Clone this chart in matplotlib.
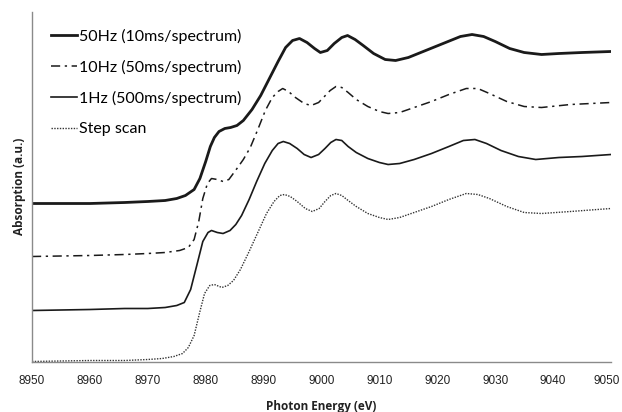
"""
XANES spectra recorded at different acquisition rates, offset vertically.
Saves: out.png
"""

import matplotlib.pyplot as plt
import matplotlib.transforms as mtransforms

# ── Data (absorption in arbitrary units, curves already offset) ───────────────

E_50HZ = [8950, 8960, 8966, 8970, 8973, 8975, 8976.5, 8978, 8979, 8980, 8980.8,
          8981.5, 8982.3, 8983.3, 8984.3, 8985.4, 8986.5, 8988, 8989.5, 8991,
          8992.5, 8993.8, 8995, 8996.2, 8997.5, 8998.8, 8999.8, 9001, 9002.2,
          9003.5, 9004.5, 9005.8, 9007.2, 9009, 9011, 9012.8, 9015, 9018,
          9021, 9024, 9026, 9028, 9030, 9032.5, 9035, 9038, 9041, 9045, 9050]
ABS_50HZ = [158, 158, 159, 160, 161, 163, 166, 172, 183, 200, 215,
            224, 230, 233, 234, 236, 241, 252, 266, 283,
            300, 314, 321, 323, 319, 313, 309, 311, 318,
            324, 326, 322, 316, 308, 302, 301, 304, 311,
            318, 325, 327, 325, 320, 313, 309, 307, 308, 309, 310]

E_10HZ = [8950, 8960, 8966, 8970, 8973, 8975.5, 8977, 8978, 8978.8, 8979.5,
          8980.3, 8981, 8982, 8983, 8984, 8985.4, 8986.5, 8987.7, 8989,
          8990.3, 8991.5, 8992.5, 8993.3, 8994.3, 8995.5, 8997, 8998.2,
          8999.5, 9000.5, 9001.5, 9002.5, 9003.5, 9004.6, 9006, 9008, 9010,
          9011.5, 9013.5, 9016, 9019, 9022, 9025, 9027, 9029, 9032, 9035,
          9038, 9043, 9050]
ABS_10HZ = [105, 106, 107, 108, 109, 111, 114, 122, 140, 163,
            178, 183, 182, 180, 182, 193, 202, 214, 232,
            251, 264, 270, 273, 270, 264, 258, 256,
            259, 265, 271, 275, 274, 269, 262, 255, 250,
            248, 249, 254, 260, 267, 273, 273, 268, 260, 255,
            254, 257, 259]

E_1HZ = [8950, 8960, 8966, 8970, 8973, 8975, 8976.3, 8977.4, 8978.5, 8979.5,
         8980.4, 8981, 8982, 8983, 8984.2, 8985.2, 8986.2, 8987.5, 8988.8,
         8990.2, 8991.5, 8992.5, 8993.4, 8994.5, 8995.8, 8997, 8998.2, 8999.5,
         9000.6, 9001.6, 9002.5, 9003.5, 9004.6, 9006, 9008, 9010, 9011.5,
         9013.5, 9016, 9019, 9022, 9024.5, 9026.5, 9028.5, 9031, 9034, 9037,
         9041, 9045, 9050]
ABS_1HZ = [51, 52, 53, 53, 54, 56, 59, 72, 97, 120,
           129, 131, 129, 128, 131, 137, 146, 162, 180,
           198, 211, 218, 220, 218, 213, 207, 204, 207,
           213, 219, 222, 221, 215, 209, 203, 199, 197,
           198, 202, 208, 215, 221, 222, 218, 211, 205, 202,
           204, 205, 207]

E_STEP = [8950, 8960, 8966, 8970, 8972.5, 8974.5, 8976, 8977, 8978, 8979,
          8979.8, 8980.7, 8981.5, 8982.8, 8983.8, 8984.8, 8986, 8987.5,
          8989, 8990.5, 8991.8, 8992.8, 8993.6, 8994.6, 8995.8, 8997.2,
          8998.4, 8999.6, 9000.6, 9001.6, 9002.5, 9003.5, 9004.6, 9006,
          9008, 9010, 9011.5, 9013.5, 9016, 9019, 9022, 9025, 9027, 9029,
          9032, 9035, 9038, 9043, 9050]
ABS_STEP = [0, 1, 1, 2, 3, 5, 8, 14, 26, 50,
            68, 76, 77, 74, 76, 81, 92, 110,
            129, 148, 160, 166, 167, 165, 160, 153,
            150, 153, 160, 166, 168, 166, 161, 155,
            148, 144, 142, 144, 149, 155, 162, 168, 167, 163,
            155, 149, 148, 150, 153]

LABELS = ["50Hz (10ms/spectrum)", "10Hz (50ms/spectrum)",
          "1Hz (500ms/spectrum)", "Step scan"]

X_TICKS = list(range(8950, 9051, 10))


def main():
    fig = plt.figure(figsize=(6.22, 4.12), dpi=100)
    ax = fig.add_axes([32 / 622, 1 - 361.5 / 412, 579 / 622, 349.5 / 412])

    ink = "#1a1a1a"
    ax.plot(E_50HZ, ABS_50HZ, color=ink, lw=2.0, label=LABELS[0])
    ax.plot(E_10HZ, ABS_10HZ, color=ink, lw=1.1,
            linestyle=(0, (6, 3, 1.5, 3)), label=LABELS[1])
    ax.plot(E_1HZ, ABS_1HZ, color=ink, lw=1.2, label=LABELS[2])
    ax.plot(E_STEP, ABS_STEP, color="#333333", lw=1.0,
            linestyle=(0, (1, 1)), label=LABELS[3])

    ax.set_xlim(8950, 9050)
    ax.set_ylim(0, 349.5)
    ax.set_xticks(X_TICKS)
    ax.set_yticks([])
    ax.tick_params(axis="x", length=0, pad=10, labelsize=8.5, colors="#222222")
    for lbl in ax.get_xticklabels():
        lbl.set_fontfamily("Liberation Sans")

    # last label sits at the figure edge: nudge it a few pixels left
    last = ax.get_xticklabels()[-1]
    last.set_transform(last.get_transform() +
                       mtransforms.ScaledTranslation(-3 / 72, 0, fig.dpi_scale_trans))

    for side in ("top", "right"):
        ax.spines[side].set_visible(False)
    for side in ("left", "bottom"):
        ax.spines[side].set_color("#8a8a8a")
        ax.spines[side].set_linewidth(1.0)

    ax.set_xlabel("Photon Energy (eV)", fontsize=8.5, fontweight="bold",
                  family="Open Sans", labelpad=9, color="#222222")
    ax.set_ylabel("Absorption (a.u.)", fontsize=8.5, fontweight="bold",
                  family="Open Sans", labelpad=4, color="#222222")

    ax.legend(loc="upper left", bbox_to_anchor=(0.008, 0.993), frameon=False,
              handlelength=1.6, handletextpad=0.15, labelspacing=1.0,
              prop={"family": "Lato", "size": 11.5})

    fig.savefig("out.png", dpi=100)


if __name__ == "__main__":
    main()
